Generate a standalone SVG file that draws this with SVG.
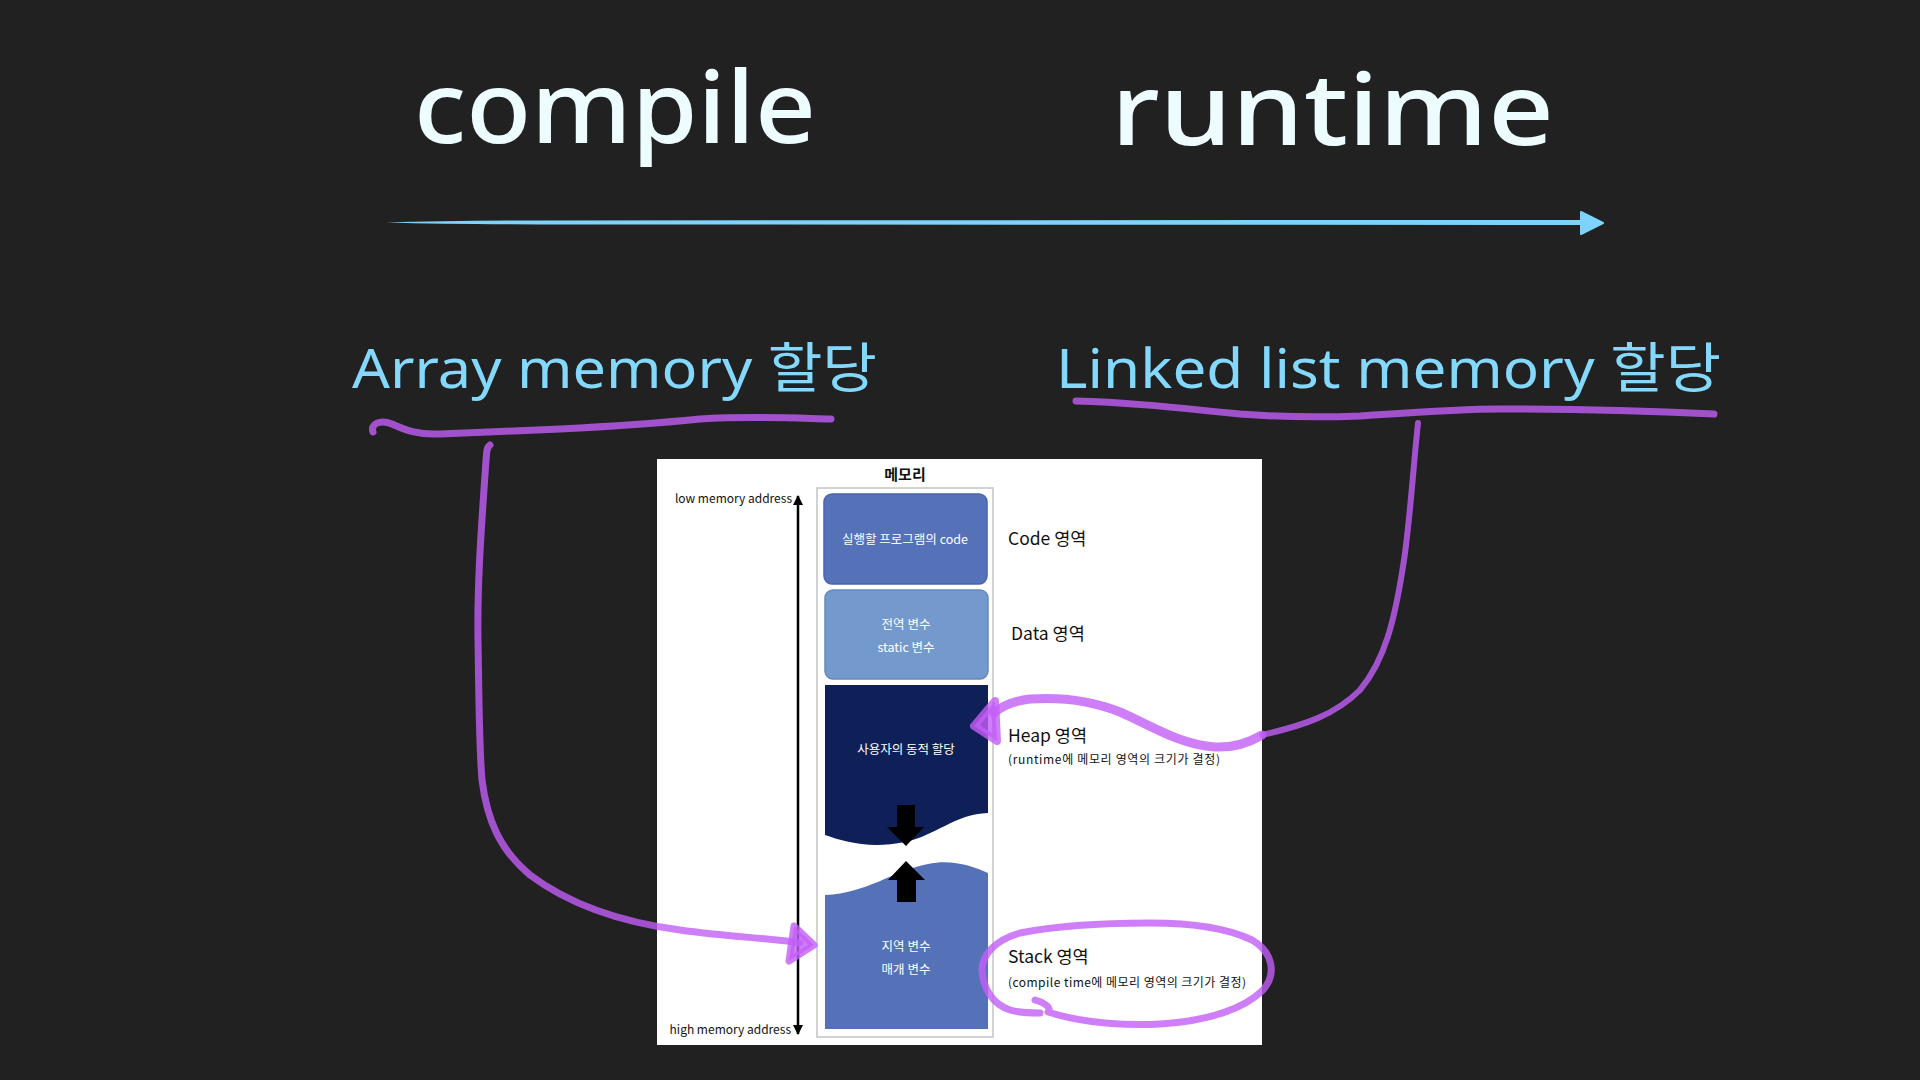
<svg xmlns="http://www.w3.org/2000/svg" width="1920" height="1080" viewBox="0 0 1920 1080">
<style>
.title{font-family:"Noto Sans","Noto Sans CJK KR",sans-serif;fill:#EDFDFF;font-size:100px;font-weight:500}
.label{font-family:"Noto Sans","Noto Sans CJK KR",sans-serif;fill:#84D8FC;font-size:54px}
.kr{font-family:"Noto Sans CJK KR","Noto Sans",sans-serif}
.boxt{font-size:12.5px;fill:#ffffff;text-anchor:middle}
.side{font-size:17.5px;fill:#111111}
.small{font-size:12px;fill:#111111}
.addr{font-size:12px;fill:#111111;text-anchor:end}
.pen{fill:none;stroke:#C35EF7;stroke-opacity:0.8;stroke-linecap:round;stroke-linejoin:round}
.head{fill:#C35EF7;fill-opacity:0.8;stroke:#C35EF7;stroke-opacity:0.8;stroke-linecap:round;stroke-linejoin:round}
</style>
<defs>
<marker id="axisHead" viewBox="0 0 10 10" refX="9" refY="5" markerWidth="4" markerHeight="4" orient="auto-start-reverse">
<path d="M0,0 L10,5 L0,10 Z" fill="#000"/>
</marker>
</defs>
<rect width="1920" height="1080" fill="#212121"/>

<g id="title-compile"><text class="title" x="414" y="143" textLength="402" lengthAdjust="spacingAndGlyphs">compile</text></g>
<g id="title-runtime"><text class="title" x="1111" y="145" textLength="443" lengthAdjust="spacingAndGlyphs">runtime</text></g>

<g id="timeline">
<path d="M386,222.5 Q450,220.6 540,220.4 L1584,220 L1584,225 L540,224.4 Q450,224.2 386,222.5 Z" fill="#7DD3FC"/>
<path d="M1581,212 L1603,223 L1581,234 Z" fill="#7DD3FC" stroke="#7DD3FC" stroke-width="2" stroke-linejoin="round"/>
</g>

<g id="label-array"><text class="label" x="352" y="388" textLength="525" lengthAdjust="spacingAndGlyphs">Array memory 할당</text></g>
<g id="label-linked"><text class="label" x="1056" y="388" textLength="665" lengthAdjust="spacingAndGlyphs">Linked list memory 할당</text></g>

<g id="memory-panel">
<rect x="657" y="459" width="605" height="586" fill="#ffffff"/>
<text class="kr" x="905" y="480" font-size="15" font-weight="bold" text-anchor="middle" fill="#111">메모리</text>
<rect x="817" y="488" width="176" height="549" fill="none" stroke="#C4C4C4" stroke-width="1.5"/>
<line x1="798" y1="496" x2="798" y2="1034" stroke="#000" stroke-width="2.5" marker-start="url(#axisHead)" marker-end="url(#axisHead)"/>
<text class="kr addr" x="792" y="503">low memory address</text>
<text class="kr addr" x="791" y="1034">high memory address</text>
</g>

<g id="code-area">
<rect x="824" y="494" width="163" height="90" rx="8" fill="#5572B9" stroke="#4A65A8" stroke-width="1.5"/>
<text class="kr boxt" x="905" y="544">실행할 프로그램의 code</text>
<text class="kr side" x="1008" y="545">Code 영역</text>
</g>

<g id="data-area">
<rect x="825" y="590" width="163" height="89" rx="8" fill="#7499CD" stroke="#6689BF" stroke-width="1.5"/>
<text class="kr boxt" x="906" y="629">전역 변수</text>
<text class="kr boxt" x="906" y="652">static 변수</text>
<text class="kr side" x="1011" y="640">Data 영역</text>
</g>

<g id="heap-area">
<path d="M825,685 H988 V813 C955,814 935,836 905,842 C870,849 845,842 825,835 Z" fill="#0F1F57"/>
<text class="kr boxt" x="906" y="754">사용자의 동적 할당</text>
<path d="M897,805 H915 V827 H924 L906,846 L887,827 H897 Z" fill="#000"/>
<text class="kr side" x="1008" y="742">Heap 영역</text>
<text class="kr small" x="1008" y="764" textLength="212">(runtime에 메모리 영역의 크기가 결정)</text>
</g>

<g id="stack-area">
<path d="M825,895 C868,893 892,871 928,864 C952,859 972,866 988,873 V1029 H825 Z" fill="#5572B9"/>
<path d="M906,861 L925,880 H916 V902 H897 V880 H888 Z" fill="#000"/>
<text class="kr boxt" x="906" y="951">지역 변수</text>
<text class="kr boxt" x="906" y="974">매개 변수</text>
<text class="kr side" x="1008" y="963">Stack 영역</text>
<text class="kr small" x="1008" y="987" textLength="238">(compile time에 메모리 영역의 크기가 결정)</text>
</g>

<g id="connectors">
<path class="pen" stroke-width="7" d="M373,432 C370,424 380,419 392,424 C405,430 418,435 440,434 C480,432 520,431 560,429 C620,426 660,423 700,419 C750,416 790,418 831,419"/>
<path class="pen" stroke-width="7" d="M1076,401 C1120,402 1160,406 1240,414 C1280,417 1310,418 1360,416 C1420,412 1460,409 1500,409 C1580,409 1650,411 1714,414"/>
<path class="pen" stroke-width="7" d="M490,445 C486,448 487,452 486,460 C482,520 477,580 478,640 C479,700 479,745 482,780 C487,820 500,850 530,875 C570,905 620,922 680,930 C730,937 770,938 800,943"/>
<path class="head" stroke-width="7" d="M794,926 L814,945 L789,961 Z"/>
<path class="pen" stroke-width="6" d="M1418,423 C1413,470 1410,520 1404,560 C1395,620 1385,660 1360,690 C1335,715 1305,725 1262,735"/>
<path class="pen" stroke-width="9" d="M1262,735 C1250,742 1235,748 1215,747 C1180,745 1150,725 1120,712 C1090,700 1060,697 1030,699 C1012,701 1002,706 994,713"/>
<path class="head" stroke-width="8" d="M995,701 L974,726 L997,741 Z"/>
<path class="pen" stroke-width="7" d="M1035,1000 C1045,1003 1052,1008 1048,1012 C1080,1022 1120,1026 1160,1024 C1210,1021 1245,1008 1263,990 C1277,974 1273,952 1252,940 C1225,927 1185,923 1150,923 C1110,923 1060,925 1020,933 C995,940 982,955 982,970 C983,988 992,1004 1010,1010 C1020,1013 1030,1013 1040,1013"/>
</g>
</svg>
